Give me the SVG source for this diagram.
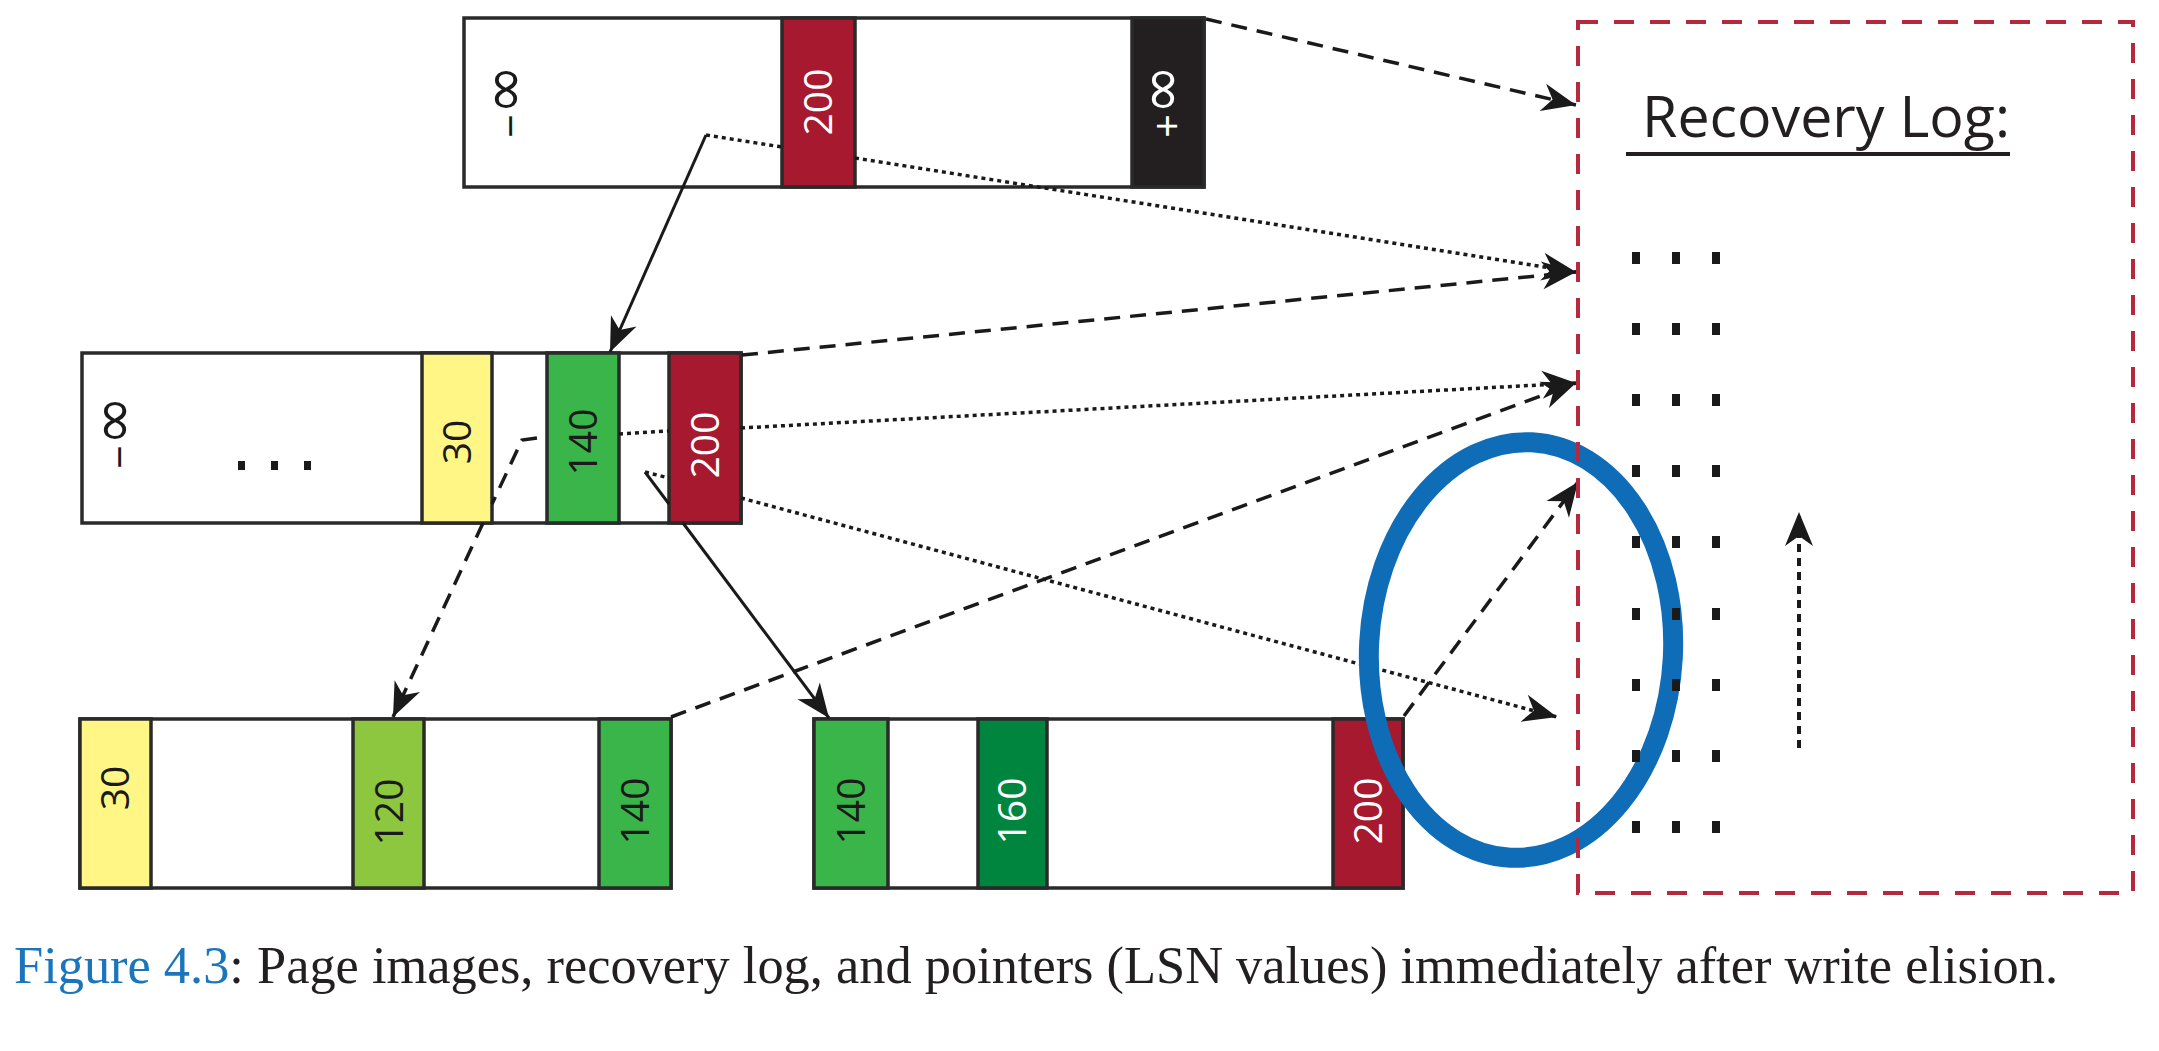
<svg xmlns="http://www.w3.org/2000/svg" width="2159" height="1051" viewBox="0 0 2159 1051">
<style>
.frame{fill:#fff;stroke:#2a2a2a;stroke-width:3.5}
.band{stroke:#2a2a2a;stroke-width:3.5}
.red{fill:#a6192e}.blk{fill:#231f20}.yel{fill:#fff685}.grn{fill:#3ab54a}.lgr{fill:#8dc63f}.dgr{fill:#00853f}
.lbl{font-family:"Open Sans","Liberation Sans",sans-serif;font-size:39px;text-anchor:middle}
.inf{font-family:"Liberation Sans","DejaVu Sans",sans-serif;font-size:40px;text-anchor:middle}
.big{font-family:"DejaVu Sans",sans-serif;font-size:60px}
.w{fill:#fff}.k{fill:#1a1a1a}
.dash{fill:none;stroke:#1a1a1a;stroke-width:3.5;stroke-dasharray:16 10}
.dot{fill:none;stroke:#1a1a1a;stroke-width:3.5;stroke-dasharray:4 4}
.vdot{fill:none;stroke:#1a1a1a;stroke-width:4;stroke-dasharray:8 6}
.solid{fill:none;stroke:#1a1a1a;stroke-width:3}
.logdot{fill:#1a1a1a}
</style>
<defs>
<marker id="ah" markerUnits="userSpaceOnUse" markerWidth="38" markerHeight="30" viewBox="-36 -15 38 30" refX="0" refY="0" orient="auto" overflow="visible">
<path d="M0,0 L-34,-14 L-24,0 L-34,14 Z" fill="#1a1a1a"/>
</marker>
</defs>

<g id="page-root">
<rect class="frame" x="464" y="18" width="740" height="169"/>
<rect class="band red" x="782" y="18" width="73" height="169"/>
<rect class="band blk" x="1132" y="18" width="72" height="169"/>
<text class="inf k" transform="translate(507,101) rotate(-90)" y="17">−<tspan class="big">∞</tspan></text>
<text class="lbl w" transform="translate(818,102) rotate(-90)" y="14">200</text>
<text class="inf w" transform="translate(1164,101) rotate(-90)" y="17">+<tspan class="big">∞</tspan></text>
</g>

<g id="page-parent">
<rect class="frame" x="82" y="353" width="659" height="170"/>
<rect class="band yel" x="422" y="353" width="70" height="170"/>
<rect class="band grn" x="547" y="353" width="72" height="170"/>
<rect class="band red" x="669" y="353" width="72" height="170"/>
<text class="inf k" transform="translate(116,432) rotate(-90)" y="17">−<tspan class="big">∞</tspan></text>
<rect class="logdot" x="238" y="461" width="7" height="9"/>
<rect class="logdot" x="271" y="461" width="7" height="9"/>
<rect class="logdot" x="304" y="461" width="7" height="9"/>
<text class="lbl k" transform="translate(457,442) rotate(-90)" y="14">30</text>
<text class="lbl k" transform="translate(583,442) rotate(-90)" y="14">140</text>
<text class="lbl w" transform="translate(705,445) rotate(-90)" y="14">200</text>
</g>

<g id="page-left">
<rect class="frame" x="80" y="719" width="591" height="169"/>
<rect class="band yel" x="80" y="719" width="71" height="169"/>
<rect class="band lgr" x="353" y="719" width="71" height="169"/>
<rect class="band grn" x="599" y="719" width="72" height="169"/>
<text class="lbl k" transform="translate(115,788) rotate(-90)" y="14">30</text>
<text class="lbl k" transform="translate(389,812) rotate(-90)" y="14">120</text>
<text class="lbl k" transform="translate(635,811) rotate(-90)" y="14">140</text>
</g>

<g id="page-right">
<rect class="frame" x="814" y="719" width="589" height="169"/>
<rect class="band grn" x="814" y="719" width="74" height="169"/>
<rect class="band dgr" x="978" y="719" width="69" height="169"/>
<rect class="band red" x="1333" y="719" width="70" height="169"/>
<text class="lbl k" transform="translate(851,811) rotate(-90)" y="14">140</text>
<text class="lbl w" transform="translate(1012,811) rotate(-90)" y="14">160</text>
<text class="lbl w" transform="translate(1368,811) rotate(-90)" y="14">200</text>
</g>

<g id="connectors">
<path class="dash" d="M1206,19 L1576,105" marker-end="url(#ah)"/>
<path class="dot" d="M706,135 L782,147"/>
<path class="dot" d="M855,158 L1576,272" marker-end="url(#ah)"/>
<path class="solid" d="M706,135 L610,352" marker-end="url(#ah)"/>
<path class="dash" d="M742,355 L1576,272" marker-end="url(#ah)"/>
<path class="dot" d="M619,434 L669,431"/>
<path class="dot" d="M741,428 L1576,383" marker-end="url(#ah)"/>
<path class="dash" d="M671,717 L1576,383" marker-end="url(#ah)"/>
<path class="dash" d="M537,438 L522,440 L492,504"/>
<path class="dash" d="M483,523 L393,717" marker-end="url(#ah)"/>
<path class="solid" d="M645,472 L669,504"/>
<path class="solid" d="M683,523 L829,718" marker-end="url(#ah)"/>
<path class="dot" d="M645,472 L669,478"/>
<path class="dot" d="M741,498 L1557,717" marker-end="url(#ah)"/>
<path class="dash" d="M1404,716 L1578,482" marker-end="url(#ah)"/>
<path class="vdot" d="M1799,748 L1799,512" marker-end="url(#ah)"/>
</g>

<ellipse id="highlight" cx="1521" cy="650" rx="152" ry="208" transform="rotate(3 1521 650)" fill="none" stroke="#0f6db8" stroke-width="20"/>

<g id="recovery-log">
<rect x="1578" y="22" width="555" height="871" fill="none" stroke="#b6283d" stroke-width="4" stroke-dasharray="20 16"/>
<text x="1642" y="137" font-family="'Open Sans','Liberation Sans',sans-serif" font-size="57" fill="#231f20" textLength="368" lengthAdjust="spacingAndGlyphs">Recovery Log:</text>
<line x1="1626" y1="154" x2="2010" y2="154" stroke="#231f20" stroke-width="4"/>
<g class="logdot">
<rect x="1632" y="252" width="8" height="12"/><rect x="1672" y="252" width="8" height="12"/><rect x="1712" y="252" width="8" height="12"/>
<rect x="1632" y="323" width="8" height="12"/><rect x="1672" y="323" width="8" height="12"/><rect x="1712" y="323" width="8" height="12"/>
<rect x="1632" y="394" width="8" height="12"/><rect x="1672" y="394" width="8" height="12"/><rect x="1712" y="394" width="8" height="12"/>
<rect x="1632" y="465" width="8" height="12"/><rect x="1672" y="465" width="8" height="12"/><rect x="1712" y="465" width="8" height="12"/>
<rect x="1632" y="536" width="8" height="12"/><rect x="1672" y="536" width="8" height="12"/><rect x="1712" y="536" width="8" height="12"/>
<rect x="1632" y="608" width="8" height="12"/><rect x="1672" y="608" width="8" height="12"/><rect x="1712" y="608" width="8" height="12"/>
<rect x="1632" y="679" width="8" height="12"/><rect x="1672" y="679" width="8" height="12"/><rect x="1712" y="679" width="8" height="12"/>
<rect x="1632" y="750" width="8" height="12"/><rect x="1672" y="750" width="8" height="12"/><rect x="1712" y="750" width="8" height="12"/>
<rect x="1632" y="821" width="8" height="12"/><rect x="1672" y="821" width="8" height="12"/><rect x="1712" y="821" width="8" height="12"/>
</g>
</g>

<text id="caption" x="14" y="983" font-family="'Liberation Serif',serif" font-size="52" fill="#231f20" textLength="2044" lengthAdjust="spacingAndGlyphs"><tspan fill="#1b75bc">Figure 4.3</tspan>: Page images, recovery log, and pointers (LSN values) immediately after write elision.</text>
</svg>
